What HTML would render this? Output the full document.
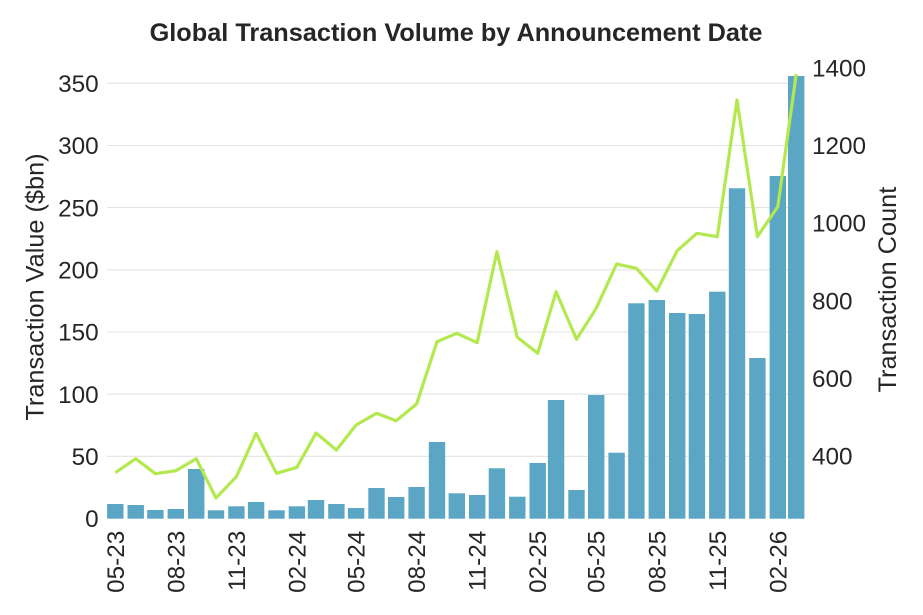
<!DOCTYPE html>
<html><head><meta charset="utf-8"><style>
html,body{margin:0;padding:0;background:#fff;}
svg{display:block;}
text{font-family:"Liberation Sans",Arial,sans-serif;fill:#262626;}
</style></head><body>
<svg width="923" height="615" viewBox="0 0 923 615" xmlns="http://www.w3.org/2000/svg">
<rect width="923" height="615" fill="#fff"/>
<!-- gridlines -->
<g stroke="#e3e3e3" stroke-width="1.1">
<line x1="107" x2="804.5" y1="83.3" y2="83.3"/>
<line x1="107" x2="804.5" y1="145.5" y2="145.5"/>
<line x1="107" x2="804.5" y1="207.6" y2="207.6"/>
<line x1="107" x2="804.5" y1="269.8" y2="269.8"/>
<line x1="107" x2="804.5" y1="332" y2="332"/>
<line x1="107" x2="804.5" y1="394.2" y2="394.2"/>
<line x1="107" x2="804.5" y1="456.3" y2="456.3"/>
</g>
<!-- bars -->
<g fill="#5ba5c5">
<rect x="107.1" y="504" width="16.4" height="14.7"/>
<rect x="127.5" y="505" width="16.4" height="13.7"/>
<rect x="147.2" y="510" width="16.4" height="8.7"/>
<rect x="167.6" y="509" width="16.4" height="9.7"/>
<rect x="188.0" y="469" width="16.4" height="49.7"/>
<rect x="207.8" y="510.3" width="16.4" height="8.4"/>
<rect x="228.2" y="506.3" width="16.4" height="12.4"/>
<rect x="247.9" y="502" width="16.4" height="16.7"/>
<rect x="268.3" y="510.3" width="16.4" height="8.4"/>
<rect x="288.7" y="506.3" width="16.4" height="12.4"/>
<rect x="307.8" y="500" width="16.4" height="18.7"/>
<rect x="328.2" y="504" width="16.4" height="14.7"/>
<rect x="347.9" y="508" width="16.4" height="10.7"/>
<rect x="368.3" y="488" width="16.4" height="30.7"/>
<rect x="388.0" y="497" width="16.4" height="21.7"/>
<rect x="408.4" y="487" width="16.4" height="31.7"/>
<rect x="428.8" y="442" width="16.4" height="76.7"/>
<rect x="448.6" y="493.3" width="16.4" height="25.4"/>
<rect x="469.0" y="495" width="16.4" height="23.7"/>
<rect x="488.7" y="468.3" width="16.4" height="50.4"/>
<rect x="509.1" y="496.7" width="16.4" height="22"/>
<rect x="529.5" y="463" width="16.4" height="55.7"/>
<rect x="547.9" y="400" width="16.4" height="118.7"/>
<rect x="568.3" y="490" width="16.4" height="28.7"/>
<rect x="588.0" y="395" width="16.4" height="123.7"/>
<rect x="608.4" y="452.7" width="16.4" height="66"/>
<rect x="628.2" y="303.3" width="16.4" height="215.4"/>
<rect x="648.6" y="300" width="16.4" height="218.7"/>
<rect x="669.0" y="313" width="16.4" height="205.7"/>
<rect x="688.7" y="314" width="16.4" height="204.7"/>
<rect x="709.1" y="291.7" width="16.4" height="227"/>
<rect x="728.8" y="188.3" width="16.4" height="330.4"/>
<rect x="749.2" y="358" width="16.4" height="160.7"/>
<rect x="769.6" y="176" width="16.4" height="342.7"/>
<rect x="788.0" y="76" width="16.4" height="442.7"/>
</g>
<!-- line -->
<polyline fill="none" stroke="#b3e84f" stroke-width="3.2" stroke-linejoin="round" stroke-linecap="butt" points="
115.3,472.7 135.7,458.7 155.4,473.7 175.8,470.7 196.2,458.7 216.0,498 236.4,476.7 256.1,433.3 276.5,473.3 296.9,467.3 316.0,433 336.4,450 356.1,425 376.5,413.3 396.2,420.7 416.6,404 437.0,341.7 456.8,333.3 477.2,342.7 496.9,251.7 517.3,337.3 537.7,353.3 556.1,291.7 576.5,339.3 596.2,308.3 616.6,264 636.4,268.3 656.8,291 677.2,250.7 696.9,233.3 717.3,236.7 737.0,100 757.4,236.7 777.8,206.7 796.2,74"/>
<!-- title -->
<text x="456" y="41" text-anchor="middle" font-size="25.3" font-weight="bold">Global Transaction Volume by Announcement Date</text>
<!-- left ticks -->
<g font-size="24.3" text-anchor="end">
<text x="98.7" y="92.0">350</text>
<text x="98.7" y="154.2">300</text>
<text x="98.7" y="216.3">250</text>
<text x="98.7" y="278.5">200</text>
<text x="98.7" y="340.7">150</text>
<text x="98.7" y="402.9">100</text>
<text x="98.7" y="465.0">50</text>
<text x="98.7" y="527.2">0</text>
</g>
<!-- right ticks -->
<g font-size="24.3" text-anchor="start">
<text x="812" y="76.4">1400</text>
<text x="812" y="154.1">1200</text>
<text x="812" y="231.7">1000</text>
<text x="812" y="309.4">800</text>
<text x="812" y="387.0">600</text>
<text x="812" y="464.7">400</text>
</g>
<!-- x ticks -->
<g font-size="24.3" text-anchor="end">
<text transform="translate(115.3,530.7) rotate(-90)" dy="0.35em">05-23</text>
<text transform="translate(175.8,530.7) rotate(-90)" dy="0.35em">08-23</text>
<text transform="translate(236.4,530.7) rotate(-90)" dy="0.35em">11-23</text>
<text transform="translate(296.9,530.7) rotate(-90)" dy="0.35em">02-24</text>
<text transform="translate(356.1,530.7) rotate(-90)" dy="0.35em">05-24</text>
<text transform="translate(416.6,530.7) rotate(-90)" dy="0.35em">08-24</text>
<text transform="translate(477.2,530.7) rotate(-90)" dy="0.35em">11-24</text>
<text transform="translate(537.7,530.7) rotate(-90)" dy="0.35em">02-25</text>
<text transform="translate(596.2,530.7) rotate(-90)" dy="0.35em">05-25</text>
<text transform="translate(656.8,530.7) rotate(-90)" dy="0.35em">08-25</text>
<text transform="translate(717.3,530.7) rotate(-90)" dy="0.35em">11-25</text>
<text transform="translate(777.8,530.7) rotate(-90)" dy="0.35em">02-26</text>
</g>
<!-- axis labels -->
<text transform="translate(43.3,287) rotate(-90)" text-anchor="middle" font-size="25.3">Transaction Value ($bn)</text>
<text transform="translate(896,289.6) rotate(-90)" text-anchor="middle" font-size="25.3">Transaction Count</text>
</svg>
</body></html>
